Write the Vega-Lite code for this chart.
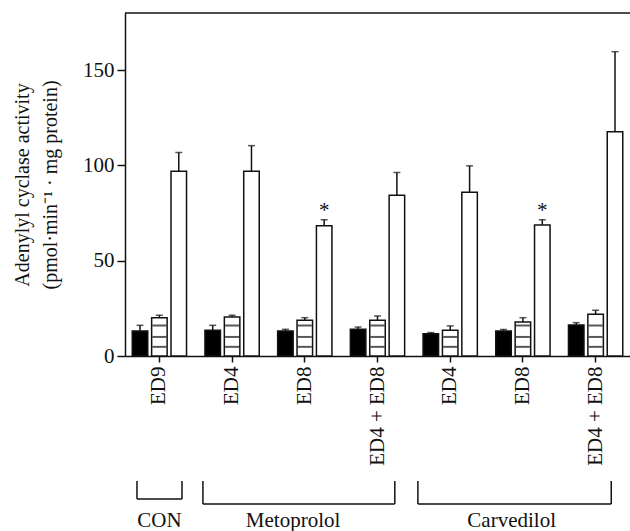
{
  "$schema": "https://vega.github.io/schema/vega-lite/v6.json",
  "padding": {"left": 12, "top": 12, "right": 0, "bottom": 0},
  "bounds": "flush",
  "spacing": 123,
  "config": {
    "view": {"stroke": null},
    "font": "Liberation Serif",
    "axis": {
      "domainColor": "#111", "domainWidth": 1.5,
      "tickColor": "#111", "tickWidth": 1.5,
      "labelFont": "Liberation Serif", "labelFontSize": 21, "labelColor": "#111",
      "titleFont": "Liberation Serif", "titleFontSize": 20, "titleFontWeight": "normal", "titleColor": "#111",
      "grid": false
    }
  },
  "vconcat": [
    {
      "width": 505,
      "height": 343,
      "data": {"values": [
        {"cond": "CON|ED9", "series": "black", "value": 13.1, "upper": 16.1},
        {"cond": "CON|ED9", "series": "striped", "value": 20.1, "upper": 21.4},
        {"cond": "CON|ED9", "series": "white", "value": 96.9, "upper": 106.8},
        {"cond": "Meto|ED4", "series": "black", "value": 13.5, "upper": 16.1},
        {"cond": "Meto|ED4", "series": "striped", "value": 20.5, "upper": 21.4},
        {"cond": "Meto|ED4", "series": "white", "value": 96.9, "upper": 110.4},
        {"cond": "Meto|ED8", "series": "black", "value": 13.1, "upper": 14.0},
        {"cond": "Meto|ED8", "series": "striped", "value": 18.7, "upper": 20.1},
        {"cond": "Meto|ED8", "series": "white", "value": 68.3, "upper": 71.5, "star": "*"},
        {"cond": "Meto|ED4 + ED8", "series": "black", "value": 14.0, "upper": 15.2},
        {"cond": "Meto|ED4 + ED8", "series": "striped", "value": 18.7, "upper": 21.0},
        {"cond": "Meto|ED4 + ED8", "series": "white", "value": 84.4, "upper": 96.3},
        {"cond": "Carv|ED4", "series": "black", "value": 11.7, "upper": 12.3},
        {"cond": "Carv|ED4", "series": "striped", "value": 13.5, "upper": 15.8},
        {"cond": "Carv|ED4", "series": "white", "value": 85.9, "upper": 99.8},
        {"cond": "Carv|ED8", "series": "black", "value": 13.1, "upper": 13.9},
        {"cond": "Carv|ED8", "series": "striped", "value": 17.9, "upper": 20.1},
        {"cond": "Carv|ED8", "series": "white", "value": 68.8, "upper": 71.5, "star": "*"},
        {"cond": "Carv|ED4 + ED8", "series": "black", "value": 16.3, "upper": 17.5},
        {"cond": "Carv|ED4 + ED8", "series": "striped", "value": 21.9, "upper": 24.0},
        {"cond": "Carv|ED4 + ED8", "series": "white", "value": 117.7, "upper": 159.7}
      ]},
      "resolve": {"axis": {"y": "independent"}},
      "layer": [
        {
          "encoding": {
            "x": {
              "field": "cond", "type": "nominal",
              "sort": ["CON|ED9", "Meto|ED4", "Meto|ED8", "Meto|ED4 + ED8", "Carv|ED4", "Carv|ED8", "Carv|ED4 + ED8"],
              "scale": {"paddingInner": 0.2, "paddingOuter": 0.073},
              "title": null,
              "axis": {"labelAngle": -90, "labelExpr": "split(datum.label, '|')[1]", "tickSize": 6, "labelPadding": 4}
            },
            "xOffset": {
              "field": "series", "type": "nominal",
              "sort": ["black", "striped", "white"],
              "scale": {"paddingInner": 0.2, "paddingOuter": 0.1}
            }
          },
          "resolve": {"axis": {"y": "independent"}},
          "layer": [
            {
              "mark": {"type": "rule", "stroke": "#111", "strokeWidth": 1.5},
              "encoding": {
                "y": {
                  "field": "value", "type": "quantitative",
                  "scale": {"domain": [0, 180], "nice": false},
                  "title": ["Adenylyl cyclase activity", "(pmol·min⁻¹ · mg protein)"],
                  "axis": {
                    "values": [0, 50, 100, 150],
                    "tickSize": 8, "labelPadding": 3, "titlePadding": 22, "titleLineHeight": 28
                  }
                },
                "y2": {"field": "upper"}
              }
            },
            {
              "mark": {"type": "tick", "orient": "horizontal", "size": 7, "thickness": 1.5, "color": "#111"},
              "encoding": {
                "y": {"field": "upper", "type": "quantitative", "axis": null}
              }
            },
            {
              "mark": {"type": "bar", "stroke": "#111", "strokeWidth": 1.5},
              "encoding": {
                "y": {
                  "field": "value", "type": "quantitative", "title": null,
                  "axis": {
                    "values": [10, 20, 30, 40, 60, 70, 80, 90, 110, 120, 130, 140, 160, 170],
                    "labels": false, "domain": false, "tickSize": 7
                  }
                },
                "fill": {
                  "field": "series", "type": "nominal",
                  "scale": {"domain": ["black", "striped", "white"], "range": ["#000000", "#ffffff", "#ffffff"]},
                  "legend": null
                }
              }
            },
            {
              "transform": [{"filter": "datum.series === 'striped' && datum.value > 6"}],
              "mark": {"type": "tick", "orient": "horizontal", "size": 14, "thickness": 2, "color": "#111"},
              "encoding": {"y": {"datum": 4.8, "axis": null}}
            },
            {
              "transform": [{"filter": "datum.series === 'striped' && datum.value > 11.5"}],
              "mark": {"type": "tick", "orient": "horizontal", "size": 14, "thickness": 2, "color": "#111"},
              "encoding": {"y": {"datum": 10, "axis": null}}
            },
            {
              "transform": [{"filter": "datum.series === 'striped' && datum.value > 17.5"}],
              "mark": {"type": "tick", "orient": "horizontal", "size": 14, "thickness": 2, "color": "#111"},
              "encoding": {"y": {"datum": 16, "axis": null}}
            },
            {
              "transform": [{"filter": "datum.star"}],
              "mark": {"type": "text", "fontSize": 21, "baseline": "alphabetic", "dy": -3, "color": "#111", "font": "Liberation Serif"},
              "encoding": {
                "y": {"field": "upper", "type": "quantitative", "axis": null},
                "text": {"field": "star"}
              }
            }
          ]
        },
        {
          "data": {"values": [{}]},
          "mark": {"type": "rule", "stroke": "#111", "strokeWidth": 1.5},
          "encoding": {"y": {"datum": 180, "axis": null}}
        }
      ]
    },
    {
      "width": 505,
      "height": 50,
      "data": {"values": [
        {"group": "CON", "start": 0.166, "end": 0.79, "bottom": 30, "mid": 0.478},
        {"group": "Metoprolol", "start": 1.08, "end": 3.74, "bottom": 25, "mid": 2.33},
        {"group": "Carvedilol", "start": 4.06, "end": 6.74, "bottom": 25, "mid": 5.36}
      ]},
      "encoding": {},
      "layer": [
        {
          "mark": {"type": "rule", "stroke": "#111", "strokeWidth": 1.5},
          "encoding": {
            "x": {"field": "start", "type": "quantitative", "scale": {"domain": [0, 7], "nice": false}, "axis": null},
            "x2": {"field": "end"},
            "y": {"field": "bottom", "type": "quantitative", "scale": {"domain": [0, 50], "nice": false}, "axis": null}
          }
        },
        {
          "mark": {"type": "rule", "stroke": "#111", "strokeWidth": 1.5},
          "encoding": {
            "x": {"field": "start", "type": "quantitative"},
            "y": {"field": "bottom", "type": "quantitative"},
            "y2": {"datum": 48}
          }
        },
        {
          "mark": {"type": "rule", "stroke": "#111", "strokeWidth": 1.5},
          "encoding": {
            "x": {"field": "end", "type": "quantitative"},
            "y": {"field": "bottom", "type": "quantitative"},
            "y2": {"datum": 48}
          }
        },
        {
          "mark": {"type": "text", "fontSize": 21, "font": "Liberation Serif", "baseline": "alphabetic", "align": "center", "color": "#111"},
          "encoding": {
            "x": {"field": "mid", "type": "quantitative"},
            "y": {"datum": 2},
            "text": {"field": "group"}
          }
        }
      ]
    }
  ]
}
